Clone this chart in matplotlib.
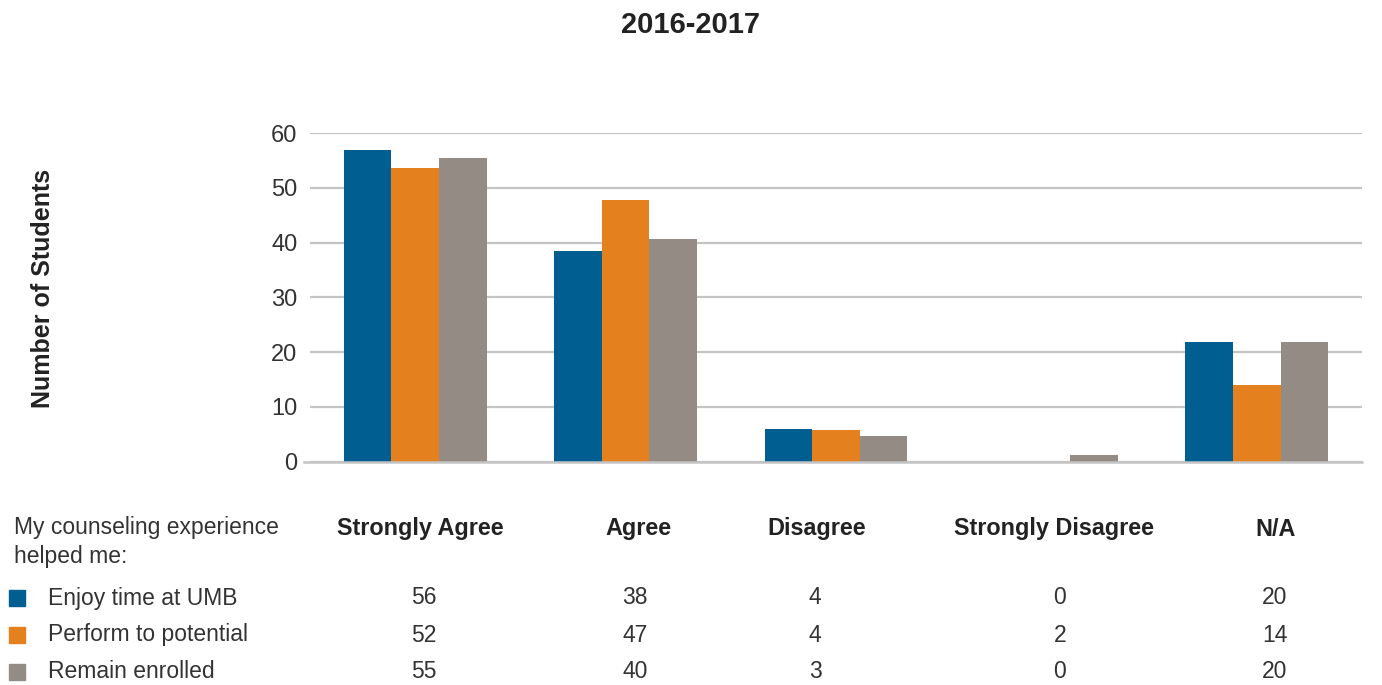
import matplotlib.pyplot as plt
import numpy as np

categories = ["Strongly Agree", "Agree", "Disagree", "Strongly Disagree", "N/A"]
series = ["Enjoy time at UMB", "Perform to potential", "Remain enrolled"]
colors = ["#005E90", "#E5801F", "#958B85"]

# bar heights as drawn in the chart
bar_enjoy = [56.9, 38.4, 6.0, 0, 21.9]
bar_perform = [53.6, 47.7, 5.8, 0, 14.0]
bar_remain = [55.4, 40.6, 4.7, 1.2, 21.9]

# numbers printed in the table below
tbl_enjoy = [56, 38, 4, 0, 20]
tbl_perform = [52, 47, 4, 2, 14]
tbl_remain = [55, 40, 3, 0, 20]

W, H = 1382, 685
plt.rcParams['font.family'] = ['Liberation Sans', 'DejaVu Sans']
fig = plt.figure(figsize=(W / 100, H / 100), dpi=100)
ax = fig.add_axes([310 / W, 1 - 461.7 / H, 1052 / W, 328.7 / H])

x = np.arange(len(categories))
bw = 0.226
for i, (vals, c) in enumerate(zip([bar_enjoy, bar_perform, bar_remain], colors)):
    ax.bar(x + (i - 1) * bw, vals, width=bw, color=c, zorder=3)

ax.set_xlim(-0.5, 4.5)
ax.set_ylim(0, 60)
ax.set_yticks(range(0, 61, 10))
ax.set_xticks([])
ax.yaxis.grid(True, color="#c4c4c4", linewidth=1.6, zorder=0)
for s in ["top", "right", "left", "bottom"]:
    ax.spines[s].set_visible(False)
ax.plot([-0.006, 1], [0, 0], transform=ax.transAxes, color="#c4c4c4",
        linewidth=1.8, clip_on=False, zorder=4)
ax.tick_params(axis="y", length=0, pad=9, labelsize=17, labelcolor="#333333")

fig.text(690 / W, 1 - 25 / H, "2016-2017", ha="center", va="center",
         fontsize=21, fontweight="bold", color="#222222")
fig.text(43 / W, 1 - 288 / H, "Number of Students", ha="center", va="center",
         rotation=90, fontsize=18, fontweight="bold", color="#222222")

# table below the chart
col_x = [420, 638, 817, 1054, 1276]
num_x = [424, 635, 815, 1060, 1275]
row_y = [598, 635, 672]

fig.text(14 / W, 1 - 542 / H, "My counseling experience\nhelped me:", ha="left",
         va="center", fontsize=16.5, color="#333333", linespacing=1.3)
for cx, cat in zip(col_x, categories):
    fig.text(cx / W, 1 - 529 / H, cat, ha="center", va="center", fontsize=16.8,
             fontweight="bold", color="#222222")

for ry, name, c, vals in zip(row_y, series, colors, [tbl_enjoy, tbl_perform, tbl_remain]):
    fig.patches.append(plt.Rectangle((9 / W, 1 - (ry + 8) / H), 16 / W, 16 / H,
                                     transform=fig.transFigure, color=c))
    fig.text(48 / W, 1 - ry / H, name, ha="left", va="center", fontsize=16.5,
             color="#333333")
    for nx, v in zip(num_x, vals):
        fig.text(nx / W, 1 - ry / H, str(v), ha="center", va="center", fontsize=16.5,
                 color="#333333")

plt.savefig("out.png", dpi=100)
